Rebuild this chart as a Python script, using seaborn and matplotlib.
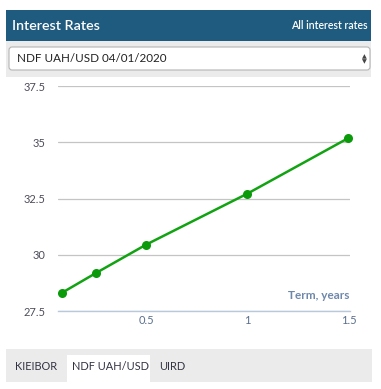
import matplotlib
matplotlib.use("Agg")
import matplotlib.pyplot as plt
from matplotlib.patches import Rectangle, FancyBboxPatch
import seaborn as sns
import pandas as pd

# Data
terms = [0.0833, 0.25, 0.5, 1.0, 1.5]
rates = [28.32, 29.19, 30.46, 32.72, 35.19]
x_ticks = [0.5, 1, 1.5]
x_tick_labels = ["0.5", "1", "1.5"]
y_ticks = [27.5, 30, 32.5, 35, 37.5]
y_tick_labels = ["27.5", "30", "32.5", "35", "37.5"]
title = "Interest Rates"
link = "All interest rates"
selector = "NDF UAH/USD 04/01/2020"
tabs = ["KIEIBOR", "NDF UAH/USD", "UIRD"]
x_label = "Term, years"

sns.set_style("white")
plt.rcParams["font.family"] = ["Lato", "DejaVu Sans"]

W, H = 381, 389
fig = plt.figure(figsize=(W / 100, H / 100), dpi=100)

def fx(x):
    return x / W

def fy(y):
    return 1 - y / H

def rect(x0, y0, x1, y1, color, **kw):
    fig.add_artist(Rectangle((fx(x0), fy(y1)), fx(x1) - fx(x0), fy(y0) - fy(y1),
                             transform=fig.transFigure, facecolor=color, edgecolor="none", **kw))

# Header
rect(6, 10, 371, 41, "#1f5b7e")
fig.text(fx(12), fy(26), title, color="white", fontsize=10.3, va="center", ha="left",
         fontweight="semibold")
fig.text(fx(368), fy(25.5), link, color="white", fontsize=7.6, va="center", ha="right",
         fontweight="semibold")
# Selector band
rect(6, 41, 371, 77, "#ebebeb")
fig.add_artist(FancyBboxPatch((fx(9), fy(70)), fx(370) - fx(9), fy(47) - fy(70),
                              boxstyle="round,pad=0,rounding_size=0.008",
                              transform=fig.transFigure, facecolor="white",
                              edgecolor="#b5b5b5", linewidth=0.8))
fig.text(fx(17), fy(59), selector, color="#222222", fontsize=8.4, va="center", ha="left")
fig.text(fx(364), fy(59), "\u25B2", color="#444444", fontsize=4.5, va="bottom", ha="center")
fig.text(fx(364), fy(59), "\u25BC", color="#444444", fontsize=4.5, va="top", ha="center")

# Bottom tabs
rect(6, 349, 372, 382, "#ebebeb")
rect(67, 355, 150, 382, "white")
fig.text(fx(15), fy(367), tabs[0], color="#333344", fontsize=7.9, va="center", ha="left")
fig.text(fx(72), fy(367), tabs[1], color="#333344", fontsize=7.9, va="center", ha="left")
fig.text(fx(159), fy(367), tabs[2], color="#333344", fontsize=7.9, va="center", ha="left")

# Chart
ax = fig.add_axes([fx(58), fy(311.3), fx(350) - fx(58), fy(86) - fy(311.3)])
df = pd.DataFrame({"term": terms, "rate": rates})
sns.lineplot(data=df, x="term", y="rate", ax=ax, color="#12a312", linewidth=1.8,
             marker="o", markersize=6.5, markeredgewidth=0, markerfacecolor="#0a9a0a",
             clip_on=False, zorder=5)
ax.set_xlim(0.064, 1.508)
ax.set_ylim(27.5, 37.5)
ax.set_yticks(y_ticks)
ax.set_yticklabels(y_tick_labels)
ax.set_xticks(x_ticks)
ax.set_xticklabels(x_tick_labels)
ax.grid(axis="y", color="#c4c4c4", linewidth=0.9)
ax.grid(axis="x", visible=False)
for s in ["top", "right", "left"]:
    ax.spines[s].set_visible(False)
ax.spines["bottom"].set_color("#b8c9dc")
ax.spines["bottom"].set_linewidth(1)
ax.tick_params(axis="y", length=0, pad=9, labelsize=8, labelcolor="#4d4d5a")
ax.tick_params(axis="x", length=4, width=1, color="#b8c9dc", direction="in", pad=3,
               labelsize=8, labelcolor="#5b6e8c")
ax.set_xlabel("")
ax.set_ylabel("")
ax.text(1.0, 0.07, x_label, transform=ax.transAxes, ha="right", va="center",
        fontsize=8.5, fontweight="bold", color="#6e88ab")
ax.set_facecolor("white")

fig.savefig("out.png", dpi=100)
